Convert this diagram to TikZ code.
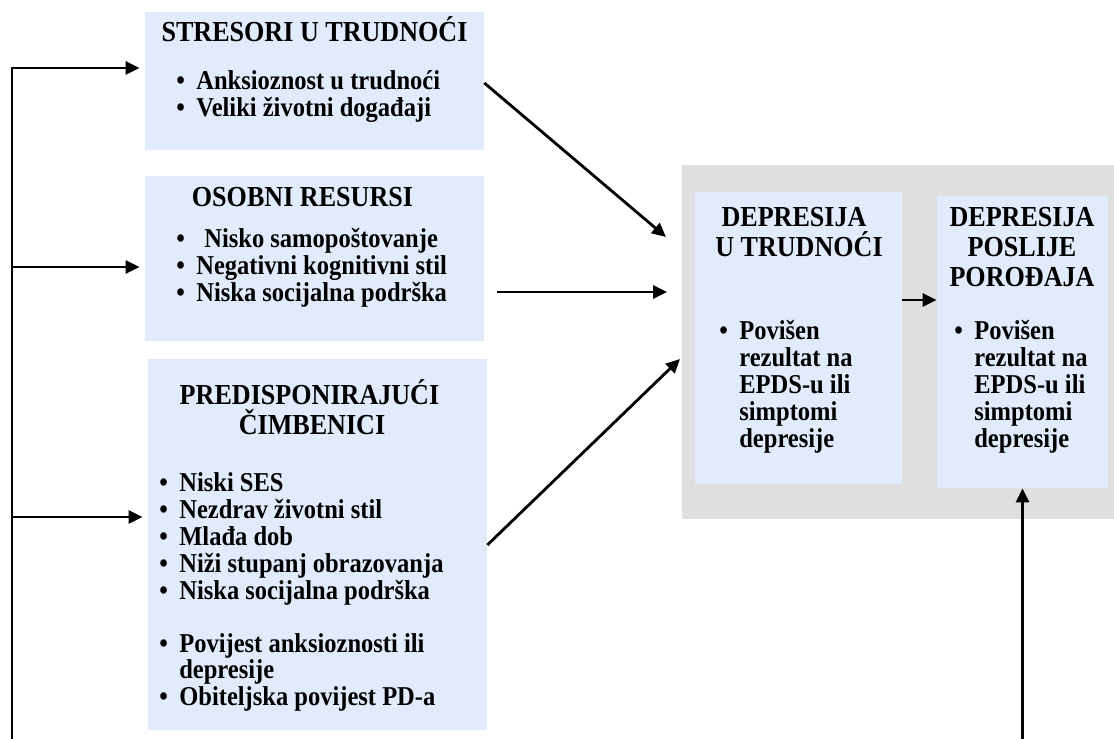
\documentclass[tikz,border=0pt]{standalone}
\usepackage{fontspec}
\setmainfont[FakeStretch=0.9]{Liberation Serif}
\usepackage{xcolor}
\usetikzlibrary{arrows.meta,fit}
\definecolor{boxblue}{HTML}{E1EBFC}
\definecolor{panelgray}{HTML}{DFDFDF}
\newcommand{\itemdot}{\makebox[4mm][l]{•}}
\newcommand{\itemgap}{\hspace*{4mm}}

\begin{document}
\begin{tikzpicture}[x=0.2mm,y=-0.2mm,
    riskbox/.style={fill=boxblue,inner sep=0pt},
    ttl/.style={font=\bfseries\fontsize{16.5}{18}\selectfont,anchor=base,inner sep=0pt},
    itm/.style={font=\bfseries\fontsize{15.5}{17}\selectfont,anchor=base west,inner sep=0pt},
    arr/.style={line width=1.6pt,-{Triangle[length=2.8mm,width=2.6mm]}}]
  \useasboundingbox (0,0) rectangle (1114,739);
  % boxes
  \node[fill=panelgray,inner sep=0pt,fit={(682,165) (1114,519)}] (panel) {};
  \node[riskbox,fit={(145,12) (484,150)}] (stres) {};
  \node[riskbox,fit={(145,176) (484,341)}] (osob) {};
  \node[riskbox,fit={(148,359) (487,730)}] (predis) {};
  \node[riskbox,fit={(695,192) (902,484)}] (preg) {};
  \node[riskbox,fit={(937,196) (1108,488)}] (post) {};
  % titles
  \node[ttl] (stres-t) at (314.5,42) {STRESORI U TRUDNOĆI};
  \node[ttl] (osob-t) at (302.5,207) {OSOBNI RESURSI};
  \node[ttl] (predis-t1) at (309.5,405) {PREDISPONIRAJUĆI};
  \node[ttl] (predis-t2) at (312,435) {ČIMBENICI};
  \node[ttl] (preg-t1) at (794,227) {DEPRESIJA};
  \node[ttl] (preg-t2) at (799,257) {U TRUDNOĆI};
  \foreach \t [count=\i] in {DEPRESIJA,POSLIJE,POROĐAJA}
    \node[ttl] (post-t\i) at (1022,{197+30*\i}) {\t};
  % bullet lists
  \foreach \t [count=\i from 0] in {Anksioznost u trudnoći,Veliki životni događaji}
    \node[itm] (stres-\i) at (176,{90+27*\i}) {\itemdot\t};
  \foreach \t [count=\i from 0] in {\hspace{1.6mm}Nisko samopoštovanje,Negativni kognitivni stil,Niska socijalna podrška}
    \node[itm] (osob-\i) at (176,{248+27*\i}) {\itemdot\t};
  \foreach \t [count=\i from 0] in {Niski SES,Nezdrav životni stil,Mlađa dob,Niži stupanj obrazovanja,Niska socijalna podrška}
    \node[itm] (predis-\i) at (159,{492+27*\i}) {\itemdot\t};
  \node[itm] (predis-5) at (159,652) {\itemdot Povijest anksioznosti ili};
  \node[itm] (predis-6) at (159,678) {\itemgap depresije};
  \node[itm] (predis-7) at (159,705) {\itemdot Obiteljska povijest PD-a};
  \foreach \t [count=\i from 0] in {\itemdot Povišen,\itemgap rezultat na,\itemgap EPDS-u ili,\itemgap simptomi,\itemgap depresije} {
    \node[itm] (preg-\i) at (719,{340+27*\i}) {\t};
    \node[itm] (post-\i) at (954,{340+27*\i}) {\t};
  }
  % connectors
  \coordinate (spine-top) at (12,68);
  \coordinate (spine-bot) at (12,739);
  \coordinate (post-bot) at (post.south |- 0,739);
  \coordinate (hub-top) at (666,237);
  \coordinate (hub-mid-s) at (497,292);
  \coordinate (hub-mid) at (667,292);
  \coordinate (hub-bot) at (680,359);
  \draw[arr,shorten >=1mm] (spine-bot) |- (stres.west |- spine-top);
  \draw[arr,shorten >=1mm] (spine-bot |- 0,267) -- (osob.west |- 0,267);
  \draw[arr,shorten >=1mm] (spine-bot |- 0,517) -- (predis.west |- 0,517);
  \draw[arr] (stres.east |- 0,83) -- (hub-top);
  \draw[arr] (hub-mid-s) -- (hub-mid);
  \draw[arr] (predis.east |- 0,545) -- (hub-bot);
  \draw[arr] (preg.east |- 0,300) -- (post.west |- 0,300);
  \draw[arr] (post-bot) -- (post.south);
\end{tikzpicture}
\end{document}
